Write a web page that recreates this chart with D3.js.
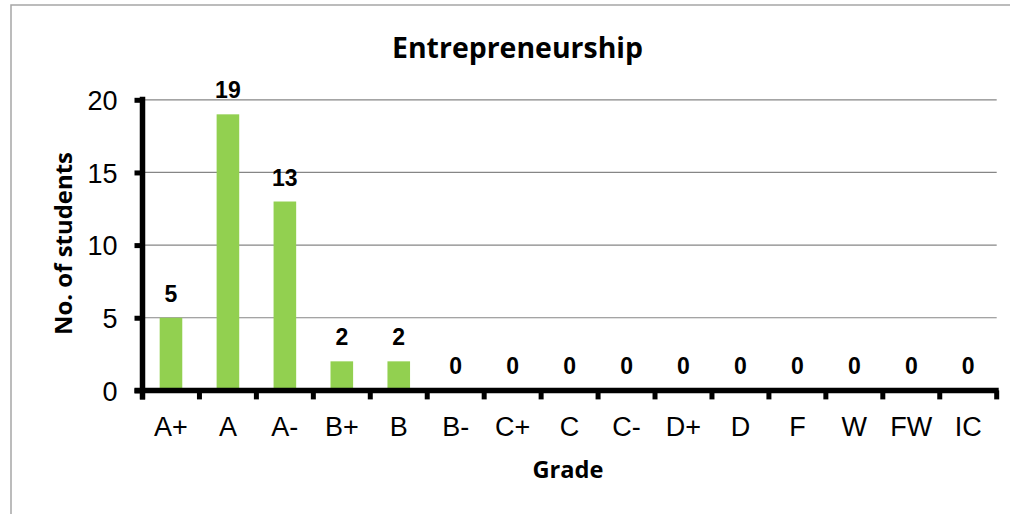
<!DOCTYPE html>
<html>
<head>
<meta charset="utf-8">
<script src="https://cdn.jsdelivr.net/npm/d3@7"></script>
<style>
html,body{margin:0;padding:0;background:#fff;}
svg{display:block;}
</style>
</head>
<body>
<svg id="chart" width="1010" height="514"></svg>
<script>
const categories = ["A+","A","A-","B+","B","B-","C+","C","C-","D+","D","F","W","FW","IC"];
const values = [5,19,13,2,2,0,0,0,0,0,0,0,0,0,0];
const yTicks = [0,5,10,15,20];
const title = "Entrepreneurship";
const xTitle = "Grade";
const yTitle = "No. of students";

const svg = d3.select("#chart");
const plotLeft = 142.5, plotRight = 996.7, plotTop = 99.8, plotBottom = 390.4;

// outer border
svg.append("rect").attr("x",11).attr("y",5).attr("width",1010).attr("height",520)
  .attr("fill","none").attr("stroke","#a6a6a6").attr("stroke-width",1.5);

const xb = d3.scaleBand().domain(categories).range([plotLeft,plotRight]);
const y = d3.scaleLinear().domain([0,20]).range([plotBottom,plotTop]);

// gridlines
svg.append("g").selectAll("line").data(yTicks.filter(d=>d>0)).join("line")
  .attr("x1",plotLeft).attr("x2",plotRight)
  .attr("y1",d=>y(d)).attr("y2",d=>y(d))
  .attr("stroke","#868686").attr("stroke-width",1.2);

// bars
svg.append("g").selectAll("rect").data(values).join("rect")
  .attr("x",(d,i)=>xb(categories[i])+xb.bandwidth()/2-11.3)
  .attr("width",22.6)
  .attr("y",d=>y(d))
  .attr("height",d=>plotBottom-y(d))
  .attr("fill","#92D050");

// y axis
const yAxis = d3.axisLeft(y).tickValues(yTicks).tickSize(8).tickPadding(17);
const gy = svg.append("g").attr("transform",`translate(${plotLeft},0)`).call(yAxis);
gy.select(".domain").remove();
gy.selectAll(".tick line").attr("stroke","#000").attr("stroke-width",5);
gy.selectAll(".tick text").attr("font-family","'Liberation Sans', Arial, sans-serif")
  .attr("font-size",27).attr("fill","#000").attr("dy","0.36em");
svg.append("line").attr("x1",plotLeft).attr("x2",plotLeft).attr("y1",y(20)-3).attr("y2",plotBottom+9)
  .attr("stroke","#000").attr("stroke-width",5.5);

// x axis
const tickPos = categories.map(c=>xb(c)).concat([plotRight]);
svg.append("g").selectAll("line").data(tickPos).join("line")
  .attr("x1",d=>d).attr("x2",d=>d).attr("y1",plotBottom).attr("y2",plotBottom+9)
  .attr("stroke","#000").attr("stroke-width",5);
svg.append("line").attr("x1",plotLeft-8).attr("x2",plotRight+2).attr("y1",plotBottom).attr("y2",plotBottom)
  .attr("stroke","#000").attr("stroke-width",5.5);
svg.append("g").selectAll("text").data(categories).join("text")
  .attr("x",c=>xb(c)+xb.bandwidth()/2).attr("y",436)
  .attr("text-anchor","middle")
  .attr("font-family","'Liberation Sans', Arial, sans-serif").attr("font-size",27)
  .attr("fill","#000").text(c=>c);

// data labels
svg.append("g").selectAll("text").data(values).join("text")
  .attr("x",(d,i)=>xb(categories[i])+xb.bandwidth()/2)
  .attr("y",d=>y(d)-16)
  .attr("text-anchor","middle")
  .attr("font-family","'Liberation Sans', Arial, sans-serif").attr("font-weight","bold")
  .attr("font-size",23).attr("fill","#000").text(d=>d);

// title
svg.append("text").attr("x",517.5).attr("y",58).attr("text-anchor","middle")
  .attr("font-family","'Open Sans', sans-serif").attr("font-weight","bold").attr("font-size",29)
  .attr("textLength",251).attr("lengthAdjust","spacingAndGlyphs")
  .attr("fill","#000").text(title);

// x title
svg.append("text").attr("x",568).attr("y",478).attr("text-anchor","middle")
  .attr("font-family","'Open Sans', sans-serif").attr("font-weight","bold").attr("font-size",24)
  .attr("textLength",71).attr("lengthAdjust","spacingAndGlyphs")
  .attr("fill","#000").text(xTitle);

// y title
svg.append("text").attr("transform","translate(72,243.5) rotate(-90)").attr("text-anchor","middle")
  .attr("font-family","'Open Sans', sans-serif").attr("font-weight","bold").attr("font-size",24)
  .attr("textLength",183).attr("lengthAdjust","spacingAndGlyphs")
  .attr("fill","#000").text(yTitle);
</script>
</body>
</html>
